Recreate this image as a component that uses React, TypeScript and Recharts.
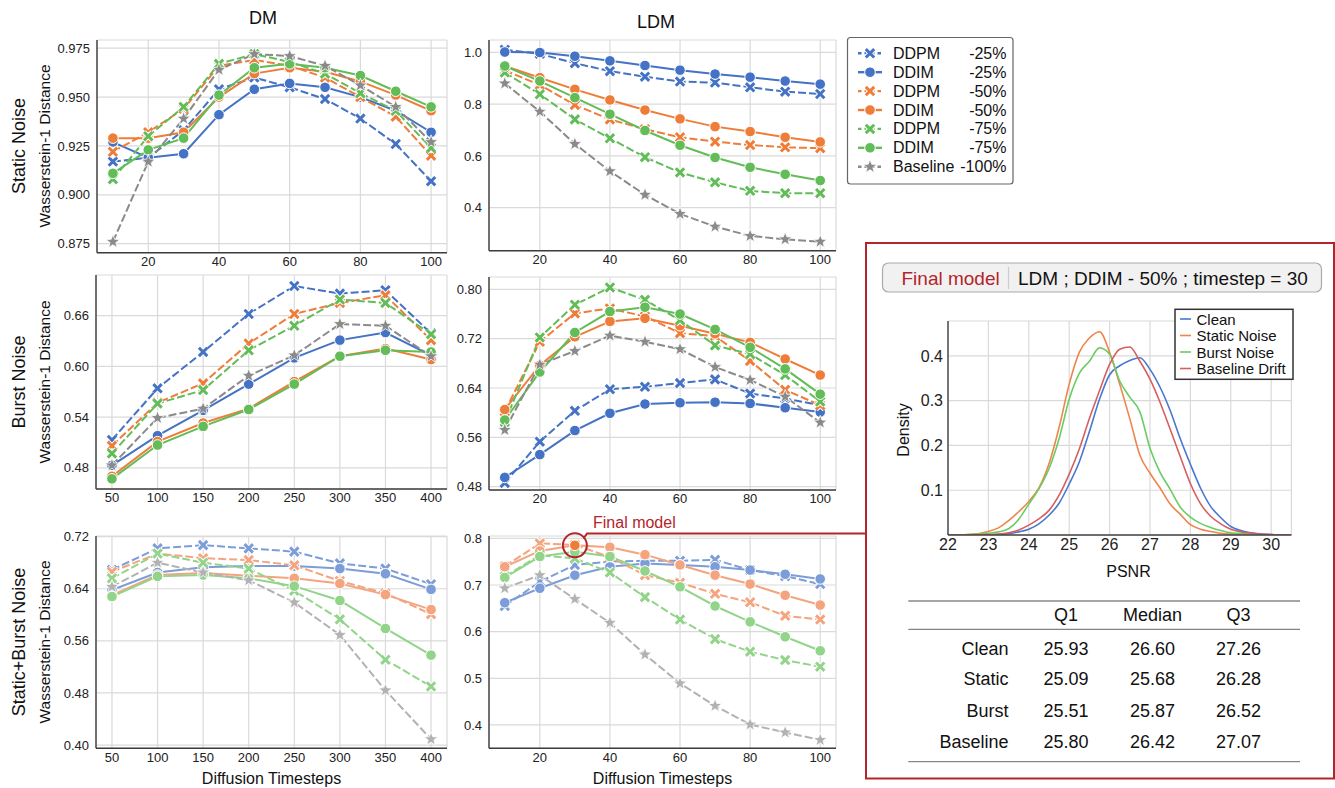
import React from "react";
import { LineChart, Line, XAxis, YAxis, CartesianGrid, ReferenceDot } from "recharts";

const FONT = "'Liberation Sans', Arial, Helvetica, sans-serif";
const RED = "#B3242B";
const AXIS = "#3d3d3d";
const GRID = "#dadada";

// ---------------- data ----------------
const LDM_STEPS = [10, 20, 30, 40, 50, 60, 70, 80, 90, 100];
const DM_STATIC_STEPS = [10, 20, 30, 40, 50, 60, 70, 80, 90, 100];
const DM_BURST_STEPS = [50, 100, 150, 200, 250, 300, 350, 400];
const TICKS_10_100 = [20, 40, 60, 80, 100];
const TICKS_50_400 = [50, 100, 150, 200, 250, 300, 350, 400];

// DM - Static Noise
const DM_STATIC_DDPM25 = [0.917, 0.919, 0.933, 0.954, 0.960, 0.955, 0.949, 0.939, 0.926, 0.907];
const DM_STATIC_DDIM25 = [0.927, 0.919, 0.921, 0.941, 0.954, 0.957, 0.955, 0.950, 0.943, 0.932];
const DM_STATIC_DDPM50 = [0.922, 0.932, 0.944, 0.966, 0.969, 0.966, 0.960, 0.950, 0.940, 0.920];
const DM_STATIC_DDIM50 = [0.929, 0.929, 0.932, 0.950, 0.962, 0.965, 0.963, 0.958, 0.951, 0.943];
const DM_STATIC_DDPM75 = [0.908, 0.930, 0.945, 0.967, 0.972, 0.968, 0.962, 0.952, 0.943, 0.924];
const DM_STATIC_DDIM75 = [0.911, 0.923, 0.929, 0.951, 0.965, 0.967, 0.965, 0.961, 0.953, 0.945];
const DM_STATIC_BASE = [0.876, 0.917, 0.939, 0.964, 0.972, 0.971, 0.966, 0.956, 0.945, 0.927];

// LDM - Static Noise
const LDM_STATIC_DDPM25 = [1.010, 0.994, 0.958, 0.927, 0.906, 0.887, 0.883, 0.865, 0.848, 0.839];
const LDM_STATIC_DDIM25 = [1.001, 0.999, 0.985, 0.967, 0.949, 0.931, 0.916, 0.904, 0.889, 0.877];
const LDM_STATIC_DDPM50 = [0.930, 0.874, 0.797, 0.741, 0.703, 0.672, 0.655, 0.642, 0.633, 0.630];
const LDM_STATIC_DDIM50 = [0.947, 0.902, 0.857, 0.816, 0.777, 0.743, 0.713, 0.694, 0.672, 0.654];
const LDM_STATIC_DDPM75 = [0.922, 0.838, 0.741, 0.668, 0.595, 0.536, 0.498, 0.465, 0.456, 0.456];
const LDM_STATIC_DDIM75 = [0.947, 0.889, 0.825, 0.761, 0.698, 0.641, 0.594, 0.556, 0.529, 0.505];
const LDM_STATIC_BASE = [0.880, 0.771, 0.646, 0.541, 0.450, 0.376, 0.327, 0.291, 0.278, 0.269];

// DM - Burst Noise
const DM_BURST_DDPM25 = [0.513, 0.574, 0.617, 0.662, 0.695, 0.686, 0.690, 0.639];
const DM_BURST_DDIM25 = [0.483, 0.518, 0.548, 0.579, 0.610, 0.631, 0.640, 0.613];
const DM_BURST_DDPM50 = [0.506, 0.557, 0.580, 0.627, 0.662, 0.675, 0.684, 0.631];
const DM_BURST_DDIM50 = [0.470, 0.511, 0.533, 0.550, 0.582, 0.612, 0.621, 0.608];
const DM_BURST_DDPM75 = [0.497, 0.556, 0.572, 0.619, 0.648, 0.679, 0.675, 0.638];
const DM_BURST_DDIM75 = [0.467, 0.507, 0.529, 0.549, 0.579, 0.612, 0.619, 0.617];
const DM_BURST_BASE = [0.483, 0.539, 0.550, 0.589, 0.613, 0.650, 0.648, 0.612];

// LDM - Burst Noise
const LDM_BURST_DDPM25 = [0.486, 0.553, 0.603, 0.638, 0.642, 0.648, 0.654, 0.631, 0.623, 0.612];
const LDM_BURST_DDIM25 = [0.495, 0.532, 0.571, 0.599, 0.614, 0.616, 0.617, 0.615, 0.608, 0.601];
const LDM_BURST_DDPM50 = [0.602, 0.715, 0.761, 0.769, 0.756, 0.729, 0.724, 0.684, 0.637, 0.612];
const LDM_BURST_DDIM50 = [0.605, 0.677, 0.723, 0.748, 0.753, 0.741, 0.728, 0.714, 0.687, 0.661];
const LDM_BURST_DDPM75 = [0.585, 0.722, 0.775, 0.803, 0.783, 0.750, 0.709, 0.695, 0.661, 0.618];
const LDM_BURST_DDIM75 = [0.588, 0.666, 0.730, 0.764, 0.771, 0.760, 0.735, 0.706, 0.671, 0.630];
const LDM_BURST_BASE = [0.572, 0.678, 0.700, 0.725, 0.715, 0.703, 0.674, 0.653, 0.626, 0.584];

// DM - Static+Burst Noise
const DM_SB_DDPM25 = [0.669, 0.702, 0.707, 0.702, 0.697, 0.679, 0.671, 0.647];
const DM_SB_DDIM25 = [0.638, 0.665, 0.673, 0.675, 0.675, 0.671, 0.663, 0.639];
const DM_SB_DDPM50 = [0.666, 0.694, 0.687, 0.684, 0.676, 0.652, 0.633, 0.601];
const DM_SB_DDIM50 = [0.630, 0.661, 0.664, 0.660, 0.656, 0.648, 0.631, 0.608];
const DM_SB_DDPM75 = [0.656, 0.694, 0.680, 0.671, 0.637, 0.593, 0.531, 0.490];
const DM_SB_DDIM75 = [0.628, 0.659, 0.661, 0.656, 0.644, 0.622, 0.579, 0.538];
const DM_SB_BASE = [0.643, 0.680, 0.665, 0.653, 0.619, 0.569, 0.484, 0.409];

// LDM - Static+Burst Noise
const LDM_SB_DDPM25 = [0.655, 0.707, 0.743, 0.750, 0.752, 0.752, 0.754, 0.732, 0.719, 0.702];
const LDM_SB_DDIM25 = [0.662, 0.693, 0.721, 0.739, 0.746, 0.743, 0.739, 0.732, 0.723, 0.713];
const LDM_SB_DDPM50 = [0.740, 0.789, 0.786, 0.760, 0.721, 0.705, 0.681, 0.663, 0.634, 0.626];
const LDM_SB_DDIM50 = [0.739, 0.773, 0.785, 0.781, 0.765, 0.743, 0.721, 0.702, 0.678, 0.657];
const LDM_SB_DDPM75 = [0.718, 0.764, 0.757, 0.727, 0.674, 0.626, 0.584, 0.557, 0.539, 0.525];
const LDM_SB_DDIM75 = [0.716, 0.761, 0.771, 0.761, 0.730, 0.696, 0.655, 0.621, 0.589, 0.559];
const LDM_SB_BASE = [0.693, 0.721, 0.670, 0.619, 0.551, 0.489, 0.441, 0.401, 0.384, 0.368];

// Final model
const FINAL_STEP = 30;
const FINAL_VALUE = 0.785;

// PSNR density (KDE)
const DENS_X = [22, 22.5, 23, 23.25, 23.5, 23.75, 24, 24.25, 24.5, 24.75, 25, 25.25, 25.5, 25.75, 26, 26.25, 26.5, 26.75, 27, 27.25, 27.5, 27.75, 28, 28.25, 28.5, 28.75, 29, 29.5, 30, 30.5];
const DENS_CLEAN = [0, 0, 0.0005, 0.001, 0.003, 0.007, 0.013, 0.025, 0.044, 0.071, 0.114, 0.163, 0.231, 0.303, 0.358, 0.378, 0.390, 0.396, 0.370, 0.330, 0.278, 0.215, 0.158, 0.105, 0.064, 0.039, 0.019, 0.005, 0.001, 0];
const DENS_STATIC = [0, 0.001, 0.008, 0.016, 0.032, 0.052, 0.075, 0.105, 0.159, 0.240, 0.337, 0.408, 0.440, 0.454, 0.408, 0.337, 0.260, 0.178, 0.138, 0.105, 0.069, 0.046, 0.023, 0.013, 0.008, 0.004, 0.002, 0.001, 0, 0];
const DENS_BURST = [0, 0.001, 0.004, 0.007, 0.014, 0.035, 0.069, 0.103, 0.148, 0.215, 0.303, 0.361, 0.388, 0.418, 0.404, 0.344, 0.308, 0.275, 0.194, 0.140, 0.102, 0.062, 0.040, 0.026, 0.017, 0.010, 0.005, 0.002, 0, 0];
const DENS_DRIFT = [0, 0, 0.001, 0.002, 0.005, 0.011, 0.022, 0.036, 0.055, 0.089, 0.136, 0.192, 0.260, 0.322, 0.381, 0.415, 0.420, 0.388, 0.348, 0.296, 0.236, 0.175, 0.115, 0.070, 0.042, 0.025, 0.013, 0.004, 0.001, 0];
const DENS_X_TICKS = [22, 23, 24, 25, 26, 27, 28, 29, 30];
const DENS_Y_TICKS = [0.1, 0.2, 0.3, 0.4];

// Table
const TABLE_ROWS = ["Clean", "Static", "Burst", "Baseline"];
const TABLE_COLS = ["Q1", "Median", "Q3"];
const TABLE_Q1 = [25.93, 25.09, 25.51, 25.80];
const TABLE_MEDIAN = [26.60, 25.68, 25.87, 26.42];
const TABLE_Q3 = [27.26, 26.28, 26.52, 27.07];

// ---------------- styles ----------------
const SERIES = [
  { key: "ddpm25", method: "DDPM", level: "-25%", color: "#4472C4", light: "#7D9DD8", shape: "x", dashed: true },
  { key: "ddim25", method: "DDIM", level: "-25%", color: "#4472C4", light: "#7D9DD8", shape: "circle", dashed: false },
  { key: "ddpm50", method: "DDPM", level: "-50%", color: "#EE7D3A", light: "#F4A47E", shape: "x", dashed: true },
  { key: "ddim50", method: "DDIM", level: "-50%", color: "#EE7D3A", light: "#F4A47E", shape: "circle", dashed: false },
  { key: "ddpm75", method: "DDPM", level: "-75%", color: "#62BC58", light: "#92D48A", shape: "x", dashed: true },
  { key: "ddim75", method: "DDIM", level: "-75%", color: "#62BC58", light: "#92D48A", shape: "circle", dashed: false },
  { key: "base", method: "Baseline", level: "-100%", color: "#8A8A8A", light: "#B2B2B2", shape: "star", dashed: true },
];

const DENS_SERIES = [
  { key: "clean", name: "Clean", color: "#4878D0", values: DENS_CLEAN },
  { key: "static", name: "Static Noise", color: "#EE854A", values: DENS_STATIC },
  { key: "burst", name: "Burst Noise", color: "#6ACC64", values: DENS_BURST },
  { key: "drift", name: "Baseline Drift", color: "#D65F5F", values: DENS_DRIFT },
];

function Marker({ cx, cy, shape, color }: any) {
  if (cx == null || cy == null || isNaN(cx) || isNaN(cy)) return null;
  if (shape === "circle") return <circle cx={cx} cy={cy} r={5.3} fill={color} stroke="#fff" strokeWidth={1} />;
  if (shape === "x") {
    const d = 4.2;
    const p = `M${cx - d},${cy - d}L${cx + d},${cy + d}M${cx - d},${cy + d}L${cx + d},${cy - d}`;
    return (
      <g>
        <path d={p} stroke="#fff" strokeWidth={5} fill="none" />
        <path d={p} stroke={color} strokeWidth={3} fill="none" />
      </g>
    );
  }
  const pts: string[] = [];
  for (let k = 0; k < 10; k++) {
    const rr = k % 2 === 0 ? 7.2 : 3;
    const a = -Math.PI / 2 + (k * Math.PI) / 5;
    pts.push(`${cx + rr * Math.cos(a)},${cy + rr * Math.sin(a)}`);
  }
  return <polygon points={pts.join(" ")} fill={color} stroke="#fff" strokeWidth={0.8} />;
}

const YW = 60;
const MT = 12;
const MR = 4;
const XH = 24;

function Panel(p: any) {
  const data = p.xs.map((x: number, i: number) => {
    const row: any = { x };
    SERIES.forEach((s, j) => (row[s.key] = p.values[j][i]));
    return row;
  });
  const tickStyle = { fill: "#222", fontSize: 13, fontFamily: FONT };
  const hlSeries = SERIES[3];
  return (
    <div style={{ position: "absolute", left: p.left - YW, top: p.top - MT }}>
      <LineChart width={p.w + YW + MR} height={p.h + MT + XH} data={data} margin={{ top: MT, right: MR, bottom: 0, left: 0 }}>
        <CartesianGrid stroke={GRID} strokeWidth={1.2} />
        <XAxis type="number" dataKey="x" domain={p.xDomain} ticks={p.xTicks} allowDataOverflow interval={0} height={XH}
          tickSize={0} tickMargin={4} tickLine={false} axisLine={{ stroke: AXIS, strokeWidth: 1.4 }} tick={tickStyle} />
        <YAxis type="number" domain={p.yDomain} ticks={p.yTicks} allowDataOverflow interval={0} width={YW}
          tickSize={0} tickMargin={7} tickLine={false} axisLine={{ stroke: AXIS, strokeWidth: 1.4 }} tick={tickStyle}
          tickFormatter={(v: number) => v.toFixed(p.dec)} />
        {SERIES.map((s) => {
          const col = p.faded ? s.light : s.color;
          return (
            <Line key={s.key} type="linear" dataKey={s.key} stroke={col} strokeWidth={2}
              strokeDasharray={s.dashed ? "8 3" : undefined} isAnimationActive={false} activeDot={false}
              dot={(dp: any) => (
                <Marker key={`${s.key}-${dp.index}`} cx={dp.cx} cy={dp.cy} shape={s.shape} color={col} />
              )} />
          );
        })}
        {p.highlight ? (
          <ReferenceDot x={p.highlight.x} y={p.highlight.y} r={5.3} fill={hlSeries.color} stroke="#fff" strokeWidth={1} ifOverflow="visible" />
        ) : null}
        {p.highlight ? (
          <ReferenceDot x={p.highlight.x} y={p.highlight.y} r={12} fill="none" stroke={RED} strokeWidth={2} ifOverflow="visible" />
        ) : null}
      </LineChart>
    </div>
  );
}

function DensityChart() {
  const data = DENS_X.map((x, i) => {
    const row: any = { x };
    DENS_SERIES.forEach((s) => (row[s.key] = s.values[i]));
    return row;
  });
  const left = 948.3, top = 321, w = 343.4, h = 214;
  const yw = 50, mt = 8, xh = 28;
  const tickStyle = { fill: "#222", fontSize: 16, fontFamily: FONT };
  return (
    <div style={{ position: "absolute", left: left - yw, top: top - mt }}>
      <LineChart width={w + yw + 4} height={h + mt + xh} data={data} margin={{ top: mt, right: 4, bottom: 0, left: 0 }}>
        <CartesianGrid stroke={GRID} strokeWidth={1.2} />
        <XAxis type="number" dataKey="x" domain={[22, 30.5]} ticks={DENS_X_TICKS} allowDataOverflow interval={0} height={xh}
          tickSize={0} tickMargin={4} tickLine={false} axisLine={{ stroke: "#444", strokeWidth: 1.6 }} tick={tickStyle} />
        <YAxis type="number" domain={[0, 0.478]} ticks={DENS_Y_TICKS} allowDataOverflow interval={0} width={yw}
          tickSize={0} tickMargin={5} tickLine={false} axisLine={{ stroke: "#444", strokeWidth: 1.4 }} tick={tickStyle}
          tickFormatter={(v: number) => v.toFixed(1)} />
        {DENS_SERIES.map((s) => (
          <Line key={s.key} type="monotone" dataKey={s.key} stroke={s.color} strokeWidth={1.6} dot={false}
            activeDot={false} isAnimationActive={false} />
        ))}
      </LineChart>
    </div>
  );
}

export default function App() {
  const panels = [
    { left: 96.7, top: 40, w: 350, h: 212.7, xs: DM_STATIC_STEPS, xDomain: [5.5, 104.5], xTicks: TICKS_10_100, yDomain: [0.8704, 0.9792], yTicks: [0.875, 0.9, 0.925, 0.95, 0.975], dec: 3,
      values: [DM_STATIC_DDPM25, DM_STATIC_DDIM25, DM_STATIC_DDPM50, DM_STATIC_DDIM50, DM_STATIC_DDPM75, DM_STATIC_DDIM75, DM_STATIC_BASE] },
    { left: 489, top: 40, w: 347, h: 210.7, xs: LDM_STEPS, xDomain: [5.5, 104.5], xTicks: TICKS_10_100, yDomain: [0.234, 1.0475], yTicks: [0.4, 0.6, 0.8, 1.0], dec: 1,
      values: [LDM_STATIC_DDPM25, LDM_STATIC_DDIM25, LDM_STATIC_DDPM50, LDM_STATIC_DDIM50, LDM_STATIC_DDPM75, LDM_STATIC_DDIM75, LDM_STATIC_BASE] },
    { left: 96, top: 275, w: 351, h: 214, xs: DM_BURST_STEPS, xDomain: [32.5, 417.5], xTicks: TICKS_50_400, yDomain: [0.455, 0.708], yTicks: [0.48, 0.54, 0.6, 0.66], dec: 2,
      values: [DM_BURST_DDPM25, DM_BURST_DDIM25, DM_BURST_DDPM50, DM_BURST_DDIM50, DM_BURST_DDPM75, DM_BURST_DDIM75, DM_BURST_BASE] },
    { left: 489, top: 277, w: 347, h: 213, xs: LDM_STEPS, xDomain: [5.5, 104.5], xTicks: TICKS_10_100, yDomain: [0.4746, 0.82], yTicks: [0.48, 0.56, 0.64, 0.72, 0.8], dec: 2,
      values: [LDM_BURST_DDPM25, LDM_BURST_DDIM25, LDM_BURST_DDPM50, LDM_BURST_DDIM50, LDM_BURST_DDPM75, LDM_BURST_DDIM75, LDM_BURST_BASE] },
    { left: 96, top: 536, w: 351, h: 212.3, xs: DM_BURST_STEPS, xDomain: [32.5, 417.5], xTicks: TICKS_50_400, yDomain: [0.395, 0.721], yTicks: [0.4, 0.48, 0.56, 0.64, 0.72], dec: 2, faded: true,
      values: [DM_SB_DDPM25, DM_SB_DDIM25, DM_SB_DDPM50, DM_SB_DDIM50, DM_SB_DDPM75, DM_SB_DDIM75, DM_SB_BASE] },
    { left: 489, top: 536, w: 347, h: 212.3, xs: LDM_STEPS, xDomain: [5.5, 104.5], xTicks: TICKS_10_100, yDomain: [0.35, 0.805], yTicks: [0.4, 0.5, 0.6, 0.7, 0.8], dec: 1, faded: true,
      highlight: { x: FINAL_STEP, y: FINAL_VALUE },
      values: [LDM_SB_DDPM25, LDM_SB_DDIM25, LDM_SB_DDPM50, LDM_SB_DDIM50, LDM_SB_DDPM75, LDM_SB_DDIM75, LDM_SB_BASE] },
  ];

  const txt = { fontFamily: FONT, fill: "#111" } as any;
  const rowLabels = [
    { t: "Static Noise", y: 146 },
    { t: "Burst Noise", y: 382 },
    { t: "Static+Burst Noise", y: 642 },
  ];
  const legendRowY = (i: number) => 53.3 + i * 18.9;
  const tableRowY = [649.3, 679.3, 710.5, 742.3];
  const colX = [1066, 1152.5, 1238.5];
  const tableVals = [TABLE_Q1, TABLE_MEDIAN, TABLE_Q3];

  return (
    <div style={{ position: "absolute", left: 0, top: 0, width: 1335, height: 788, background: "#fff", overflow: "hidden" }}>
      {panels.map((p, i) => (
        <Panel key={i} {...p} />
      ))}
      <DensityChart />
      <svg width={1335} height={788} style={{ position: "absolute", left: 0, top: 0, pointerEvents: "none" }}>
        {/* column titles */}
        <text x={263} y={18} textAnchor="middle" dominantBaseline="central" fontSize={18} {...txt}>DM</text>
        <text x={656} y={22} textAnchor="middle" dominantBaseline="central" fontSize={18} {...txt}>LDM</text>
        {/* row labels */}
        {rowLabels.map((r) => (
          <g key={r.t}>
            <text transform={`translate(19,${r.y}) rotate(-90)`} textAnchor="middle" dominantBaseline="central" fontSize={18} {...txt}>{r.t}</text>
            <text transform={`translate(44,${r.y}) rotate(-90)`} textAnchor="middle" dominantBaseline="central" fontSize={15.5} {...txt}>Wasserstein-1 Distance</text>
          </g>
        ))}
        {/* x axis labels */}
        <text x={271.5} y={778.5} textAnchor="middle" dominantBaseline="central" fontSize={16} {...txt}>Diffusion Timesteps</text>
        <text x={662.5} y={778.5} textAnchor="middle" dominantBaseline="central" fontSize={16} {...txt}>Diffusion Timesteps</text>

        {/* legend */}
        <rect x={847.5} y={37.5} width={165.5} height={146.5} rx={3} fill="#fff" stroke="#666" strokeWidth={1.2} />
        {SERIES.map((s, i) => {
          const y = legendRowY(i);
          return (
            <g key={s.key}>
              <line x1={858} x2={882} y1={y} y2={y} stroke={s.color} strokeWidth={2.4} strokeDasharray={s.dashed ? "3.5 3" : undefined} />
              <Marker cx={870} cy={y} shape={s.shape} color={s.color} />
              <text x={893} y={y} dominantBaseline="central" fontSize={16} {...txt}>{s.method}</text>
              <text x={1006.5} y={y} textAnchor="end" dominantBaseline="central" fontSize={16} {...txt}>{s.level}</text>
            </g>
          );
        })}

        {/* final model annotation */}
        <text x={593} y={522.5} dominantBaseline="central" fontSize={16} fontFamily={FONT} fill={RED}>Final model</text>
        <path d="M583.5,538.5 L587,533.5 L866,533.5" fill="none" stroke={RED} strokeWidth={2} />
        <rect x={866} y={243} width={468} height={535.5} fill="none" stroke={RED} strokeWidth={2} />

        {/* header box */}
        <rect x={882.5} y={263} width={439} height={29} rx={6} fill="#f1f1f1" stroke="#aaa" strokeWidth={1.2} />
        <text x={901.5} y={278} dominantBaseline="central" fontSize={19} fontFamily={FONT} fill={RED}>Final model</text>
        <line x1={1008.5} x2={1008.5} y1={267} y2={289} stroke="#ccc" strokeWidth={1.2} />
        <text x={1018} y={278} dominantBaseline="central" fontSize={19} {...txt}>LDM ; DDIM - 50% ; timestep = 30</text>

        {/* density labels */}
        <text x={1128.5} y={571} textAnchor="middle" dominantBaseline="central" fontSize={16} {...txt}>PSNR</text>
        <text transform="translate(903,430) rotate(-90)" textAnchor="middle" dominantBaseline="central" fontSize={16} {...txt}>Density</text>
        <rect x={1175} y={309.3} width={118} height={70} fill="#fff" stroke="#333" strokeWidth={1.5} />
        {DENS_SERIES.map((s, i) => {
          const y = 319 + i * 16.5;
          return (
            <g key={s.key}>
              <line x1={1180} x2={1191} y1={y} y2={y} stroke={s.color} strokeWidth={1.6} />
              <text x={1196.5} y={y} dominantBaseline="central" fontSize={15} {...txt}>{s.name}</text>
            </g>
          );
        })}

        {/* table */}
        <line x1={908.3} x2={1300} y1={601} y2={601} stroke="#888" strokeWidth={1.3} />
        <line x1={908.3} x2={1300} y1={629.3} y2={629.3} stroke="#666" strokeWidth={1} />
        <line x1={908.3} x2={1300} y1={761.7} y2={761.7} stroke="#888" strokeWidth={1.3} />
        {TABLE_COLS.map((c, j) => (
          <text key={c} x={colX[j]} y={614.5} textAnchor="middle" dominantBaseline="central" fontSize={18} {...txt}>{c}</text>
        ))}
        {TABLE_ROWS.map((r, i) => (
          <g key={r}>
            <text x={1008.5} y={tableRowY[i]} textAnchor="end" dominantBaseline="central" fontSize={18} {...txt}>{r}</text>
            {tableVals.map((col, j) => (
              <text key={j} x={colX[j]} y={tableRowY[i]} textAnchor="middle" dominantBaseline="central" fontSize={18} {...txt}>{col[i].toFixed(2)}</text>
            ))}
          </g>
        ))}
      </svg>
    </div>
  );
}
